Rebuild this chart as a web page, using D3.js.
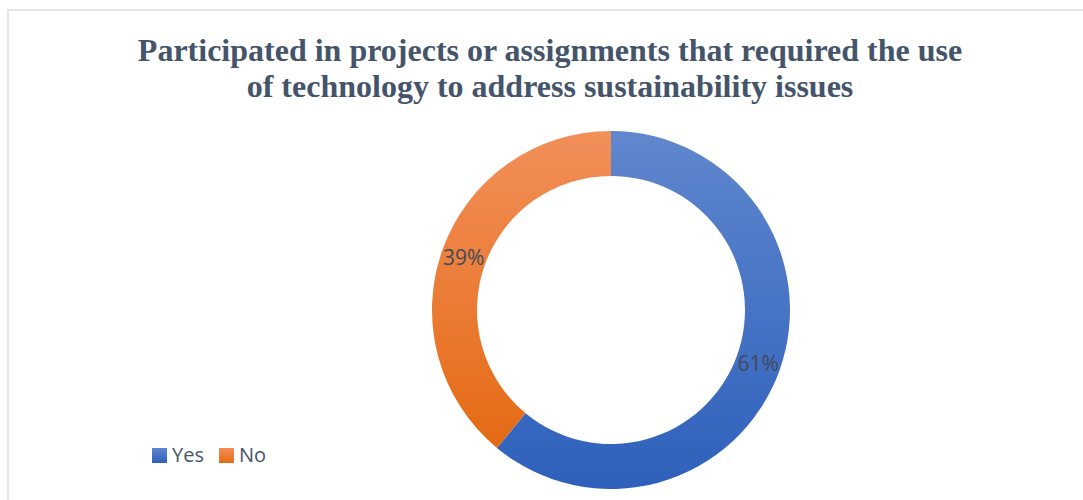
<!DOCTYPE html>
<html>
<head>
<meta charset="utf-8">
<script src="https://cdn.jsdelivr.net/npm/d3@7"></script>
<style>
  html, body { margin: 0; padding: 0; background: #ffffff; }
  svg { display: block; }
</style>
</head>
<body>
<svg id="chart" width="1083" height="500"></svg>
<script>
// Survey answers and their shares (percent)
const categories = ["Yes", "No"];
const values = [61, 39];
const titleLines = [
  "Participated in projects or assignments that required the use",
  "of technology to address sustainability issues"
];

const svg = d3.select("#chart");
const W = 1083, H = 500;

// gradient fills per category (light at top, darker at bottom)
const palette = {
  Yes: ["#6087ce", "#2e60bb"],
  No:  ["#f28f5a", "#e46a14"]
};
const defs = svg.append("defs");
categories.forEach(c => {
  const g = defs.append("linearGradient")
    .attr("id", "grad-" + c)
    .attr("x1", 0).attr("y1", 0).attr("x2", 0).attr("y2", 1);
  g.append("stop").attr("offset", "0%").attr("stop-color", palette[c][0]);
  g.append("stop").attr("offset", "100%").attr("stop-color", palette[c][1]);
});

// chart frame
svg.append("rect")
  .attr("x", 8).attr("y", 10)
  .attr("width", W + 20).attr("height", H + 20)
  .attr("fill", "#ffffff")
  .attr("stroke", "#dadee6")
  .attr("stroke-width", 1.5);

// title
const title = svg.append("text")
  .attr("text-anchor", "middle")
  .attr("font-family", "'Liberation Serif', 'Times New Roman', serif")
  .attr("font-weight", "bold")
  .attr("font-size", 32)
  .attr("fill", "#44546a");
title.selectAll("tspan")
  .data(titleLines)
  .join("tspan")
  .attr("x", 550)
  .attr("y", (d, i) => 61 + i * 35.5)
  .text(d => d);

// donut
const cx = 611, cy = 310, rOuter = 179, rInner = 134;
const color = d3.scaleOrdinal().domain(categories).range(categories.map(c => "url(#grad-" + c + ")"));
const pie = d3.pie().sort(null).value(d => d.value);
const arc = d3.arc().innerRadius(rInner).outerRadius(rOuter);
const data = categories.map((c, i) => ({ name: c, value: values[i] }));
const arcs = pie(data);

const g = svg.append("g").attr("transform", `translate(${cx},${cy})`);
g.selectAll("path.slice")
  .data(arcs)
  .join("path")
  .attr("class", "slice")
  .attr("d", arc)
  .attr("fill", d => color(d.data.name));

// percentage labels at the middle of each ring segment
const total = d3.sum(values);
g.selectAll("text.label")
  .data(arcs)
  .join("text")
  .attr("class", "label")
  .attr("transform", d => `translate(${arc.centroid(d)})`)
  .attr("text-anchor", "middle")
  .attr("dy", "0.36em")
  .attr("font-family", "'Open Sans', sans-serif")
  .attr("font-size", 21)
  .attr("fill", "#404a5a")
  .text(d => d3.format(".0%")(d.data.value / total));

// legend
const legend = svg.append("g").attr("transform", "translate(152,448)");
const item = legend.selectAll("g")
  .data(categories)
  .join("g")
  .attr("transform", (d, i) => `translate(${i * 67},0)`);
item.append("rect")
  .attr("width", 15).attr("height", 15)
  .attr("fill", d => color(d));
item.append("text")
  .attr("x", 20).attr("y", 14)
  .attr("font-family", "'Open Sans', sans-serif")
  .attr("font-size", 20)
  .attr("fill", "#44546a")
  .text(d => d);
</script>
</body>
</html>
